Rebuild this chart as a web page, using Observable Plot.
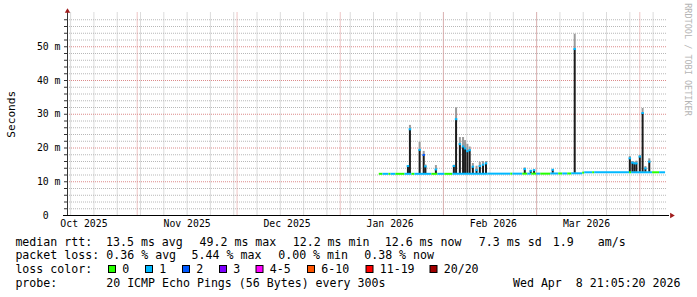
<!DOCTYPE html>
<html><head><meta charset="utf-8">
<script src="https://cdn.jsdelivr.net/npm/d3@7"></script>
<script src="https://cdn.jsdelivr.net/npm/@observablehq/plot@0.6"></script>
<style>
html,body{margin:0;padding:0;background:#fff;}
#chart{width:697px;height:297px;position:relative;overflow:hidden;background:#fff;}
#chart svg{display:block;}
.leg text{font-family:"DejaVu Sans Mono";font-size:11.6px;fill:#000;white-space:pre;}
</style></head><body><div id="chart"></div>
<script>
// ---------- data ----------
const xStart = "2025-10-11T01:30";
const xEnd = "2026-04-09T07:40";
const monthLabels = ["Oct 2025","Nov 2025","Dec 2025","Jan 2026","Feb 2026","Mar 2026"];
const monthLabelDates = ["2025-10-16T00:00","2025-11-16T00:00","2025-12-16T00:00","2026-01-16T00:00","2026-02-16T00:00","2026-03-16T00:00"];
const monthStarts = ["2025-11-01T00:00","2025-12-01T00:00","2026-01-01T00:00","2026-02-01T00:00","2026-03-01T00:00","2026-04-01T00:00"];
const weekStarts = ["2025-10-12T00:00","2025-10-19T00:00","2025-10-26T00:00","2025-11-02T00:00","2025-11-09T00:00","2025-11-16T00:00","2025-11-23T00:00","2025-11-30T00:00","2025-12-07T00:00","2025-12-14T00:00","2025-12-21T00:00","2025-12-28T00:00","2026-01-04T00:00","2026-01-11T00:00","2026-01-18T00:00","2026-01-25T00:00","2026-02-01T00:00","2026-02-08T00:00","2026-02-15T00:00","2026-02-22T00:00","2026-03-01T00:00","2026-03-08T00:00","2026-03-15T00:00","2026-03-22T00:00","2026-03-29T00:00","2026-04-05T00:00"];
const yLabelTicks = [0,10,20,30,40,50];
const yLabelText = ["0\u00a0\u00a0","10 m","20 m","30 m","40 m","50 m"];
const yMajorGrid = [10,20,30,40,50];
const yMinorGrid = [2,4,6,8,12,14,16,18,22,24,26,28,32,34,36,38,42,44,46,48,52,54,56,58];
const yMinorTicks = [0,2,4,6,8,10,12,14,16,18,20,22,24,26,28,30,32,34,36,38,40,42,44,46,48,50,52,54,56,58];

// median (ms) in runs between break times, coloured by loss level
const runBreaks = ["2026-01-12T17:30","2026-01-13T20:10","2026-01-15T15:20","2026-01-16T05:45","2026-01-17T17:45","2026-01-20T10:35","2026-01-22T13:00","2026-01-23T10:30","2026-01-28T13:00","2026-01-30T08:10","2026-02-01T10:30","2026-02-03T20:10","2026-02-14T08:10","2026-02-21T05:45","2026-02-21T20:10","2026-02-24T20:10","2026-02-26T08:10","2026-02-27T13:00","2026-03-01T01:00","2026-03-02T05:45","2026-03-05T05:45","2026-03-07T15:20","2026-03-08T20:10","2026-03-10T08:10","2026-03-11T13:00","2026-03-14T20:10","2026-03-15T10:35","2026-03-17T20:10","2026-03-18T10:35","2026-03-28T22:35","2026-03-29T13:00","2026-04-04T20:10","2026-04-06T22:35","2026-04-08T17:45"];
const runMedian = [12.35,12.35,12.35,12.35,12.35,12.35,12.35,12.35,12.35,12.35,12.35,12.35,12.4,12.4,12.4,12.4,12.4,12.4,12.4,12.4,12.45,12.45,12.45,12.45,12.5,12.7,12.8,12.8,12.8,12.8,12.8,12.8,12.8];
const runLoss =   [0,1,0,1,0,1,0,1,0,1,0,1,1,0,1,0,1,0,1,0,1,0,1,0,1,0,1,0,1,0,1,0,1];

// spikes: smoke from low to top, median marker coloured by loss
const spikeTime = ["2026-01-21T08:10","2026-01-21T22:30","2026-01-24T20:25","2026-01-26T01:55","2026-01-26T14:10","2026-01-29T17:45","2026-02-04T03:20","2026-02-04T19:10","2026-02-05T22:35","2026-02-06T21:35","2026-02-07T12:00","2026-02-08T04:35","2026-02-08T21:10","2026-02-09T20:10","2026-02-10T22:50","2026-02-11T22:35","2026-02-12T21:35","2026-02-13T19:10","2026-02-25T10:35","2026-02-27T05:45","2026-02-28T05:30","2026-03-05T20:10","2026-03-12T10:35","2026-03-29T00:00","2026-03-29T18:40","2026-03-30T09:05","2026-03-30T23:30","2026-04-01T00:00","2026-04-01T20:10","2026-04-02T16:20","2026-04-03T20:25"];
const spikeLow =    [12.4,12.4,12.4,12.4,12.4,12.4,12.4,12.4,12.4,12.4,12.4,12.4,12.4,12.4,12.4,12.4,12.4,12.4,12.4,12.4,12.4,12.5,12.5,12.8,12.8,12.8,12.8,12.8,12.8,12.8,12.8];
const spikeMedian = [14.5,25.4,19.3,17.8,14.4,13.5,14.5,28.4,21.0,20.3,19.7,18.9,19.2,14.3,13.3,14.5,14.9,15.3,13.6,13.1,13.3,13.4,49.2,16.8,15.5,15.3,15.3,17.3,30.2,13.8,15.8];
const spikeTop =    [14.8,26.7,21.7,19.0,15.0,14.8,14.9,31.9,23.1,23.1,22.2,21.1,20.3,15.4,14.6,15.8,16.0,16.0,14.1,13.3,13.5,13.6,53.7,17.5,16.0,15.8,16.1,17.8,31.7,14.5,16.8];
const spikeLoss =   [1,1,1,2,1,1,1,1,1,1,1,1,1,1,1,1,1,1,1,1,1,1,1,1,1,1,1,1,1,1,1];

// legend
const legendRows = ["median rtt:", "packet loss:", "loss color:", "probe:"];
const rttStats = ["13.5 ms avg","49.2 ms max","12.2 ms min","12.6 ms now","7.3 ms sd","1.9","am/s"];
const lossStats = ["0.36 % avg","5.44 % max","0.00 % min","0.38 % now"];
const lossLabels = ["0","1","2","3","4-5","6-10","11-19","20/20"];
const lossColors = ["#26ff00","#00b8ff","#0059ff","#7e00ff","#ff00ff","#ff5500","#ff0000","#a00000"];
const probeText = "20 ICMP Echo Pings (56 Bytes) every 300s";
const stampText = "Wed Apr  8 21:05:20 2026";
const watermark = "RRDTOOL / TOBI OETIKER";
const yTitle = "Seconds";

// ---------- build ----------
const T = s => new Date(s + ":00Z");
const xDomain = [T(xStart), T(xEnd)];
const labelMap = new Map(monthLabelDates.map((d, i) => [+T(d), monthLabels[i]]));
const yLabelMap = new Map(yLabelTicks.map((v, i) => [v, yLabelText[i]]));
const runs = runMedian.map((m, i) => ({x1: T(runBreaks[i]), x2: T(runBreaks[i + 1]), y: m, c: lossColors[runLoss[i]]}));
const spikes = spikeTime.map((t, i) => ({t: T(t), low: spikeLow[i], med: spikeMedian[i], top: spikeTop[i], c: lossColors[spikeLoss[i]]}));
const SW = 0.3;

const chart = Plot.plot({
  width: 697, height: 232,
  marginLeft: 67, marginRight: 30, marginTop: 12.5, marginBottom: 17,
  style: {fontFamily: "DejaVu Sans Mono", fontSize: "9.8px", background: "#fff", color: "#000", overflow: "visible"},
  x: {type: "utc", domain: xDomain},
  y: {domain: [0, 60]},
  color: {type: "identity"},
  marks: [
    Plot.gridX({ticks: weekStarts.map(T), stroke: "#b8b8b8", strokeOpacity: 1, strokeDasharray: "1,1"}),
    Plot.gridY({ticks: yMinorGrid, stroke: "#b8b8b8", strokeOpacity: 1, strokeDasharray: "1,1"}),
    Plot.gridX({ticks: monthStarts.map(T), stroke: "#dc8a8a", strokeOpacity: 1, strokeDasharray: "1,1"}),
    Plot.gridY({ticks: yMajorGrid, stroke: "#dc8a8a", strokeOpacity: 1, strokeDasharray: "1,1"}),
    Plot.ruleX(spikes, {x: "t", y1: "low", y2: "med", stroke: "#1c1c1c", strokeWidth: 2}),
    Plot.ruleX(spikes, {x: "t", y1: "med", y2: "top", stroke: "#9a9a9a", strokeWidth: 2}),
    Plot.ruleY(runs, {y: "y", x1: "x1", x2: "x2", stroke: "c", strokeWidth: 2}),
    Plot.ruleX(spikes, {x: "t", y1: d => d.med - SW, y2: d => d.med + SW, stroke: "c", strokeWidth: 2.5}),
    Plot.axisY({ticks: yMinorTicks, tickSize: 3, tickFormat: () => "", label: null, stroke: "#333"}),
    Plot.axisY({ticks: yLabelTicks, tickSize: 0, tickPadding: 7, tickFormat: d => yLabelMap.get(d), label: null, fill: "#000", fontSize: 9.8}),
    Plot.axisX({ticks: monthLabelDates.map(T), tickSize: 0, tickPadding: 5, tickFormat: d => labelMap.get(+d), label: null, fill: "#000", fontSize: 9.8}),
    Plot.ruleY([0], {stroke: "#000", insetLeft: -4, insetRight: -2}),
    Plot.ruleX([xDomain[0]], {stroke: "#333", insetTop: -1}),
    Plot.dot([{x: xDomain[0], y: 60}], {x: "x", y: "y", symbol: "triangle", r: 2, fill: "#a01c1c", stroke: "none", dy: -1.7}),
    Plot.dot([{x: xDomain[1], y: 0}], {x: "x", y: "y", symbol: "triangle", r: 2, rotate: 90, fill: "#a01c1c", stroke: "none", dx: 4.2}),
    Plot.text([yTitle], {text: d => d, frameAnchor: "left", textAnchor: "middle", lineAnchor: "middle", dx: -56, rotate: -90, fontSize: 11.1, fill: "#000"}),
    Plot.text([watermark], {text: d => d, frameAnchor: "top-right", textAnchor: "middle", lineAnchor: "middle", dx: 20, dy: 46.5, rotate: 90, fontSize: 8.5, fill: "#b4b4b4"})
  ]
});
document.getElementById("chart").appendChild(chart);

// ---------- legend below the plot ----------
const leg = d3.select("#chart").append("svg").attr("class", "leg").attr("width", 697).attr("height", 65);
const rowY = [13.5, 27.3, 41.1, 54.9];
const txt = (x, y, s, anchor) => leg.append("text").attr("x", x).attr("y", y).attr("xml:space", "preserve").attr("text-anchor", anchor || "start").text(s);
legendRows.forEach((s, i) => txt(15.4, rowY[i], s));
const rttX = [106, 199.5, 292.7, 384.7, 478.8, 552.7, 597.8];
rttStats.forEach((s, i) => txt(rttX[i], rowY[0], s));
const lossX = [106.3, 191.6, 278.2, 364.2];
lossStats.forEach((s, i) => txt(lossX[i], rowY[1], s));
const boxX = [108.5, 145.5, 182.5, 219.5, 256, 307.5, 366, 430];
lossLabels.forEach((s, i) => {
  leg.append("rect").attr("x", boxX[i]).attr("y", 33.5).attr("width", 7).attr("height", 7)
    .attr("fill", lossColors[i]).attr("stroke", "#000").attr("stroke-width", 1);
  txt(boxX[i] + 13.7, rowY[2], s);
});
txt(106.2, rowY[3], probeText);
txt(680.5, rowY[3], stampText, "end");
</script></body></html>
